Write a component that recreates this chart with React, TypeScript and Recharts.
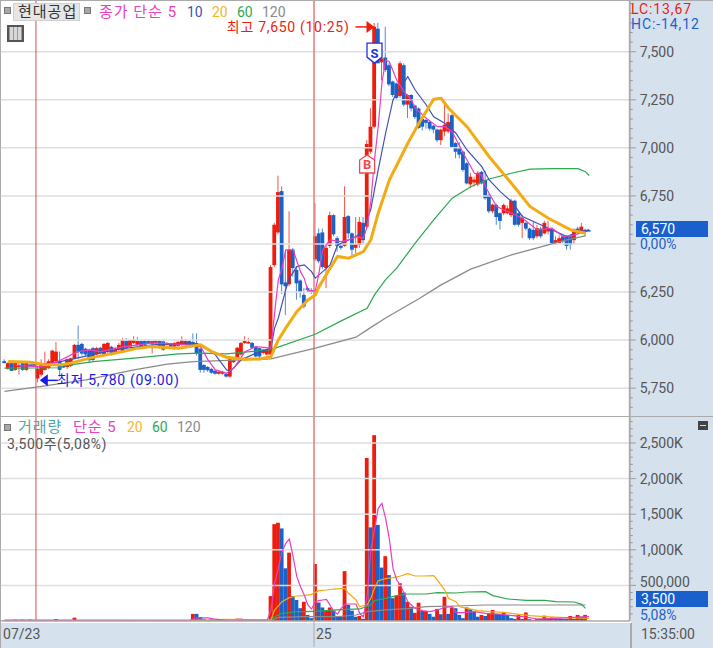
// App.tsx
import React from 'react';
import { ComposedChart, Bar, Line, XAxis, YAxis, ReferenceLine, ReferenceDot } from 'recharts';

// [open, high, low, close] for every minute bar
const ohlcFlat = [
  [5890, 5900, 5880, 5880], [5850, 5885, 5845, 5880], [5880, 5885, 5840, 5840], [5845, 5890, 5840, 5885],
  [5860, 5890, 5820, 5870], [5880, 5890, 5840, 5845], [5845, 5890, 5840, 5890], [5870, 5875, 5865, 5868],
  [5868, 5872, 5860, 5864], [5800, 5860, 5780, 5850], [5820, 5900, 5810, 5870], [5845, 5940, 5840, 5875],
  [5855, 5900, 5850, 5890], [5870, 5950, 5865, 5945], [5890, 5990, 5885, 5940], [5890, 5940, 5810, 5845],
  [5865, 5870, 5855, 5860], [5860, 5905, 5850, 5900], [5865, 5910, 5860, 5905], [5905, 5980, 5900, 5975],
  [5975, 6075, 5900, 5940], [5980, 5985, 5920, 5930], [5955, 5960, 5915, 5925], [5950, 5955, 5885, 5895],
  [5958, 5965, 5890, 5897], [5925, 5965, 5920, 5958], [5960, 5965, 5925, 5932], [5925, 5985, 5920, 5980],
  [5940, 5990, 5930, 5985], [5965, 5970, 5920, 5925], [5933, 5965, 5925, 5950], [5950, 5985, 5945, 5975],
  [5940, 6010, 5935, 6000], [5995, 6010, 5950, 5960], [5966, 6005, 5960, 6000], [5985, 6020, 5980, 6000],
  [5975, 6015, 5965, 5995], [5995, 6000, 5960, 5966], [5995, 6000, 5970, 5975], [5995, 6000, 5980, 5985],
  [5980, 5995, 5930, 5995], [5985, 6000, 5975, 5995], [5995, 6000, 5955, 5960], [5993, 6000, 5945, 5950],
  [5975, 5990, 5970, 5985], [5980, 5985, 5960, 5965], [5966, 5990, 5950, 5985], [5970, 5995, 5965, 5990],
  [5975, 6020, 5970, 6000], [5975, 6005, 5970, 5995], [5995, 6000, 5970, 5975], [5990, 6035, 5970, 5975],
  [5985, 6035, 5920, 5930], [5955, 5960, 5830, 5845], [5870, 5875, 5830, 5845], [5860, 5865, 5835, 5843],
  [5850, 5855, 5825, 5830], [5840, 5845, 5820, 5825], [5825, 5840, 5820, 5835], [5825, 5840, 5820, 5835],
  [5825, 5830, 5805, 5810], [5810, 5905, 5805, 5900], [5885, 5900, 5880, 5895], [5905, 5965, 5900, 5960],
  [5925, 5990, 5920, 5985], [5985, 6020, 5980, 5995], [5985, 6010, 5980, 5990], [5985, 5990, 5955, 5960],
  [5966, 5970, 5910, 5915], [5958, 5960, 5895, 5915], [5933, 5955, 5925, 5950], [5925, 5955, 5920, 5950],
];

const ohlcSpike = [
  [5925, 6390, 5920, 6380], [6390, 6610, 6380, 6600], [6560, 6855, 6550, 6770], [6775, 6800, 6240, 6290],
  [6300, 6460, 6130, 6280], [6290, 6670, 6280, 6470], [6470, 6480, 6330, 6375], [6365, 6380, 6210, 6295],
  [6310, 6315, 6220, 6250], [6235, 6270, 6165, 6175], [6270, 6280, 6250, 6260], [6260, 6270, 6240, 6250],
  [6420, 6712, 6410, 6540], [6555, 6580, 6400, 6410], [6560, 6580, 6370, 6380], [6375, 6490, 6270, 6480],
  [6490, 6668, 6480, 6650], [6650, 6655, 6540, 6550], [6530, 6540, 6460, 6490], [6490, 6500, 6470, 6480],
  [6490, 6800, 6485, 6640], [6645, 6650, 6530, 6555], [6555, 6560, 6440, 6470], [6480, 6640, 6450, 6500],
  [6495, 6640, 6480, 6615], [6610, 6640, 6500, 6520], [6590, 7040, 6580, 7020], [6980, 7206, 6970, 7110],
  [7110, 7650, 7100, 7630],
];

const ohlcFall = [
  [7620, 7650, 7440, 7440], [7445, 7480, 7350, 7465], [7470, 7630, 7395, 7405], [7430, 7440, 7320, 7330],
  [7345, 7350, 7265, 7275], [7335, 7340, 7250, 7260], [7270, 7450, 7260, 7440], [7430, 7440, 7215, 7225],
  [7225, 7280, 7155, 7275], [7275, 7280, 7190, 7205], [7220, 7225, 7150, 7160], [7205, 7210, 7100, 7103],
  [7150, 7155, 7090, 7110], [7145, 7150, 7100, 7130], [7135, 7145, 7090, 7100], [7115, 7120, 7075, 7095],
  [7095, 7100, 7030, 7040], [7040, 7100, 7015, 7095], [7085, 7230, 7060, 7120], [7085, 7180, 7075, 7135],
  [7170, 7175, 7000, 7005], [7025, 7030, 6946, 6980], [6998, 7030, 6945, 6965], [6980, 6985, 6875, 6885],
  [6920, 6925, 6810, 6815], [6810, 6870, 6790, 6850], [6820, 6850, 6800, 6835], [6810, 6880, 6800, 6870],
  [6875, 6880, 6810, 6815], [6833, 6880, 6730, 6738], [6755, 6760, 6660, 6670], [6670, 6710, 6660, 6705],
  [6703, 6710, 6600, 6640], [6660, 6665, 6575, 6620], [6660, 6710, 6650, 6703], [6660, 6700, 6655, 6685],
  [6650, 6735, 6640, 6725], [6725, 6730, 6595, 6600], [6660, 6665, 6590, 6600], [6610, 6650, 6530, 6635],
  [6610, 6615, 6570, 6580], [6580, 6585, 6520, 6530], [6573, 6620, 6520, 6530], [6540, 6600, 6530, 6582],
  [6580, 6590, 6530, 6540], [6555, 6620, 6550, 6610], [6565, 6620, 6550, 6580], [6575, 6580, 6500, 6505],
  [6505, 6540, 6495, 6520], [6505, 6545, 6500, 6530], [6540, 6545, 6505, 6515], [6540, 6545, 6470, 6490],
  [6540, 6545, 6470, 6495], [6520, 6580, 6500, 6575], [6580, 6590, 6550, 6560], [6565, 6610, 6555, 6590],
  [6570, 6580, 6540, 6565], [6572, 6576, 6566, 6570],
];

// moving averages: [bar index, price] at the places where the line could be read
const ma5Knots = [
  [3, 5868], [10, 5862], [14, 5885], [18, 5923], [20, 5940], [23, 5949], [26, 5940], [32, 5965], [40, 5985], [48, 5978],
  [53, 5966], [55, 5897], [57, 5845], [60, 5828], [62, 5854], [65, 5940], [68, 5966], [72, 5958], [73, 6140], [74, 6313],
  [75, 6374], [76, 6469], [78, 6469], [80, 6356], [81, 6322], [82, 6256], [84, 6256], [85, 6350], [86, 6470], [88, 6521],
  [91, 6512], [93, 6521], [95, 6538], [97, 6530], [98, 6590], [99, 6720], [100, 6937], [101, 7110], [102, 7336], [103, 7457],
  [104, 7448], [106, 7353], [108, 7293], [110, 7249], [111, 7206], [114, 7154], [117, 7110], [119, 7110], [121, 7084], [124, 6972],
  [127, 6868], [129, 6859], [130, 6798], [133, 6695], [135, 6677], [139, 6643], [140, 6634], [144, 6573], [148, 6582], [151, 6538],
  [154, 6547], [157, 6565],
];

const ma10Knots = [
  [6, 5868], [13, 5880], [18, 5900], [30, 5950], [40, 5975], [50, 5985], [54, 5965], [57, 5923], [60, 5845], [61, 5836],
  [64, 5897], [68, 5932], [72, 5958], [73, 6062], [74, 6114], [76, 6261], [77, 6322], [79, 6382], [81, 6391], [83, 6356],
  [84, 6322], [86, 6356], [88, 6391], [90, 6495], [93, 6521], [95, 6538], [97, 6573], [99, 6680], [101, 6885], [103, 7076],
  [105, 7249], [106, 7284], [109, 7370], [111, 7301], [114, 7223], [116, 7162], [119, 7128], [122, 7076], [125, 6989], [129, 6902],
  [131, 6833], [134, 6772], [137, 6721], [140, 6643], [144, 6608], [147, 6582], [152, 6539], [155, 6565], [158, 6573],
];

const ma20Knots = [
  [1, 5888], [7, 5885], [11, 5872], [15, 5871], [18, 5880], [23, 5906], [32, 5940], [36, 5958], [38, 5961], [39, 5966],
  [47, 5958], [53, 5975], [56, 5940], [60, 5911], [65, 5900], [69, 5902], [72, 5914], [74, 6001], [76, 6062], [79, 6148],
  [82, 6209], [84, 6235], [85, 6278], [88, 6374], [90, 6435], [93, 6426], [97, 6460], [99, 6521], [101, 6660], [104, 6833],
  [109, 7024], [112, 7128], [116, 7253], [118, 7258], [120, 7206], [125, 7110], [131, 6954], [137, 6816], [142, 6695], [147, 6634],
  [153, 6573], [157, 6556],
];

const ma60Knots = [
  [0, 5854], [15, 5856], [16, 5866], [24, 5888], [35, 5906], [47, 5928], [53, 5932], [60, 5928], [72, 5950], [84, 6030],
  [91, 6100], [98, 6165], [100, 6235], [103, 6315], [106, 6374], [111, 6504], [116, 6625], [121, 6738], [126, 6798], [131, 6838],
  [137, 6868], [142, 6889], [148, 6892], [155, 6892], [157, 6876], [158, 6856],
];

const ma120Knots = [
  [0, 5733], [10, 5759], [22, 5793], [35, 5845], [44, 5875], [51, 5888], [72, 5902], [84, 5958], [95, 6015], [98, 6053],
  [103, 6115], [112, 6215], [118, 6287], [126, 6369], [137, 6443], [146, 6490], [152, 6521], [157, 6542],
];

// volume in thousands, a negative number is a blue (falling) bar
const volumeFlat = [
  5, 8, -5, 19, 6, -19, 8, 19, 6, 12, 10, 8, 10, 9, 28, -8, -5, 7, 8, 47, -9, -7, -5, -6,
  -6, 6, -5, 7, 6, -6, 5, 6, 7, -5, 5, -5, 6, -5, -4, -5, 5, 4, -5, -5, 4, -4, 5, 6,
  5, 5, -5, 100, -100, -55, -30, -15, 30, -10, 8, 9, -12, 14, 10, 33, 33, 12, 9, -7, -9, -8, 6, 7,
];

const volumeSpike = [
  350, 1360, 1380, -1300, -740, 960, -350, -295, -180, 270, -85, -40, 800, -260, -190, 145, 190, -145,
  -70, -60, 700, -225, -145, -60, 70, -30, 2290, -1315, 2610,
];

const volumeFall = [
  -1350, -750, 910, -645, -320, 355, 530, -400, 270, -200, 115, 257, -140, 140, -100, -60,
  170, -95, 340, -100, 190, -180, -85, -40, 190, -165, -130, -60, 85, -70, 100, 155, -100, -100,
  -120, -85, -40, -30, 85, -30, 120, -25, 15, 30, -30, 75, -30, 50, -30, -30, -30, -30, 70, -30,
  85, -60, 85, -4,
];

const volMa5Knots = [
  [0, 8], [50, 10], [52, 45], [55, 45], [57, 25], [60, 10], [71, 12], [72, 150], [73, 529], [74, 739], [75, 973], [76, 1090],
  [77, 1151], [78, 903], [79, 622], [80, 482], [81, 365], [82, 225], [83, 168], [84, 271], [85, 285], [86, 295], [87, 304], [89, 140],
  [90, 98], [91, 178], [92, 234], [93, 239], [95, 239], [96, 108], [97, 60], [98, 342], [99, 997], [100, 1278], [101, 1582], [102, 1652],
  [103, 1441], [104, 1161], [105, 739], [106, 576], [107, 505], [108, 388], [109, 271], [110, 225], [111, 178], [112, 154], [113, 145],
  [115, 131], [117, 154], [119, 192], [121, 201], [122, 117], [124, 117], [127, 131], [130, 108], [133, 98], [136, 84], [140, 61],
  [144, 28], [149, 37], [154, 51], [158, 61],
];

const volMa20Knots = [
  [0, 10], [50, 10], [60, 22], [71, 15], [72, 14], [73, 154], [75, 271], [77, 328], [79, 351], [81, 356], [83, 374], [85, 426], [87, 435],
  [89, 449], [92, 459], [93, 389], [95, 295], [96, 201], [98, 225], [99, 318], [100, 459], [101, 566], [103, 594], [105, 608], [107, 632],
  [109, 665], [111, 632], [113, 632], [116, 636], [117, 575], [119, 435], [120, 318], [122, 271], [123, 201], [125, 178], [128, 145],
  [131, 131], [135, 122], [139, 94], [142, 75], [146, 61], [150, 51], [154, 42], [158, 37],
];

const volMa60Knots = [
  [0, 8], [71, 6], [72, 5], [73, 61], [75, 108], [77, 117], [79, 131], [81, 131], [85, 140], [90, 155], [93, 164], [96, 169], [99, 225],
  [100, 286], [103, 318], [106, 356], [109, 379], [114, 379], [117, 398], [122, 393], [125, 407], [130, 412], [132, 356], [136, 309],
  [141, 290], [146, 290], [149, 271], [154, 267], [156, 234], [157, 178],
];

const volMa120Knots = [
  [0, 5], [72, 4], [74, 51], [81, 61], [90, 61], [95, 84], [98, 131], [103, 155], [109, 173], [114, 201], [122, 211], [130, 225], [157, 225],
];

const priceTicks = [
  5650, 5700, 5750, 5800, 5850, 5900, 5950, 6000, 6050, 6100, 6150, 6200, 6250, 6300, 6350, 6400, 6450, 6500, 6550, 6600, 6650, 6700,
  6750, 6800, 6850, 6900, 6950, 7000, 7050, 7100, 7150, 7200, 7250, 7300, 7350, 7400, 7450, 7500, 7550, 7600, 7650, 7700, 7750,
];
const priceMajor = [5750, 6000, 6250, 6500, 6750, 7000, 7250, 7500];
const priceLabels = { 5750: '5,750', 6000: '6,000', 6250: '6,250', 6750: '6,750', 7000: '7,000', 7250: '7,250', 7500: '7,500' };

const volumeTicks = [
  100, 200, 300, 400, 500, 600, 700, 800, 900, 1000, 1100, 1200, 1300, 1400, 1500, 1600, 1700, 1800, 1900, 2000, 2100, 2200, 2300, 2400,
  2500, 2600, 2700, 2800,
];
const volumeMajor = [500, 1000, 1500, 2000, 2500];
const volumeLabels = { 500: '500,000', 1000: '1,000K', 1500: '1,500K', 2000: '2,000K', 2500: '2,500K' };

// positions of the session markers on the bar scale
const sessionMarks = [8.5, 83.65];
const timeTicks = [-0.4, 83.65];
const timeLabels = ['07/23', '25'];

const candles = [...ohlcFlat, ...ohlcSpike, ...ohlcFall];
const volumes = [...volumeFlat, ...volumeSpike, ...volumeFall];

const knotAt = (knots: number[][], i: number) => {
  const hit = knots.find((k) => k[0] === i);
  return hit ? hit[1] : null;
};

const priceData = candles.map(([open, high, low, close], i) => ({
  i, open, high, low, close,
  range: [low, high],
  ma5: knotAt(ma5Knots, i),
  ma10: knotAt(ma10Knots, i),
  ma20: knotAt(ma20Knots, i),
  ma60: knotAt(ma60Knots, i),
  ma120: knotAt(ma120Knots, i),
}));

const volumeData = volumes.map((v, i) => ({
  i,
  volume: Math.abs(v),
  up: v > 0,
  ma5: knotAt(volMa5Knots, i),
  ma20: knotAt(volMa20Knots, i),
  ma60: knotAt(volMa60Knots, i),
  ma120: knotAt(volMa120Knots, i),
}));

const RED = '#ee1c0c';
const BLUE = '#1b62c8';
const PINK = '#e83fc0';
const NAVY = '#3f51b5';
const ORANGE = '#f2ab12';
const GREEN = '#2ea84f';
const GRAY = '#8a8a8a';
const PANEL = '#d6e1ee';
const FONT = 'Roboto, "Noto Sans CJK KR", sans-serif';

const Candle = (props: any) => {
  const { x, y, width, height, payload } = props;
  const { open, high, low, close } = payload;
  const perUnit = height / (high - low);
  const top = y + (high - Math.max(open, close)) * perUnit;
  const bodyHeight = Math.max(Math.abs(open - close) * perUnit, 1.5);
  const color = close >= open ? RED : BLUE;
  return (
    <g>
      <line x1={x + width / 2} x2={x + width / 2} y1={y} y2={y + height} stroke={color} strokeWidth={1} opacity={0.75} />
      <rect x={x - 0.4} y={top} width={width + 0.8} height={bodyHeight} fill={color} />
    </g>
  );
};

const VolumeBar = (props: any) => {
  const { x, y, width, height, payload } = props;
  return <rect x={x - 0.4} y={y} width={width + 0.8} height={height} fill={payload.up ? RED : BLUE} />;
};

const axisTick = (labels: any, majors: number[]) => (props: any) => {
  const { x, y, payload } = props;
  const major = majors.includes(payload.value);
  // the lowest volume label sits a little above its tick, clear of the price tag
  const lift = payload.value === 500 ? 3 : 0;
  return (
    <g>
      <line x1={x} x2={x + (major ? 6 : 3)} y1={y} y2={y} stroke="#999" strokeWidth={1} />
      {labels[payload.value] && (
        <text x={x + 10} y={y + 5 - lift} fontSize={14} fontFamily={FONT} fill="#555">{labels[payload.value]}</text>
      )}
    </g>
  );
};

const timeTick = (props: any) => {
  const { x, y, index } = props;
  return (
    <g>
      {index > 0 && <line x1={x} x2={x} y1={y - 2} y2={y + 26} stroke="#aaa" strokeWidth={1} />}
      <text x={x + (index > 0 ? 2 : 0)} y={y + 18} fontSize={14} fontFamily={FONT} fill="#555">{timeLabels[index]}</text>
    </g>
  );
};

const Flag = ({ cx, cy, letter, color, up }: any) => {
  const points = up
    ? `${cx},${cy - 9} ${cx + 7.5},${cy - 4} ${cx + 7.5},${cy + 9} ${cx - 7.5},${cy + 9} ${cx - 7.5},${cy - 4}`
    : `${cx - 7.5},${cy - 10} ${cx + 7.5},${cy - 10} ${cx + 7.5},${cy + 4} ${cx},${cy + 10} ${cx - 7.5},${cy + 4}`;
  return (
    <g>
      <polygon points={points} fill="#fff" stroke={color} strokeWidth={1.3} />
      <text x={cx} y={cy + 5} textAnchor="middle" fontSize={13} fontWeight={700} fontFamily={FONT} fill={color}>{letter}</text>
    </g>
  );
};

const HighMark = ({ cx, cy }: any) => (
  <g>
    <text x={cx - 25} y={cy + 9} textAnchor="end" fontSize={14} letterSpacing={0.7} fontFamily={FONT} fill={RED}>최고 7,650 (10:25)</text>
    <line x1={cx - 19} x2={cx - 6} y1={cy + 4} y2={cy + 4} stroke={RED} strokeWidth={1.5} />
    <polygon points={`${cx},${cy + 4} ${cx - 8},${cy - 2} ${cx - 8},${cy + 10}`} fill={RED} />
  </g>
);

const LowMark = ({ cx, cy }: any) => (
  <g>
    <polygon points={`${cx + 2},${cy - 2} ${cx + 10},${cy - 8} ${cx + 10},${cy + 4}`} fill="#1a1ae6" />
    <line x1={cx + 8} x2={cx + 20} y1={cy - 2} y2={cy - 2} stroke="#1a1ae6" strokeWidth={1.5} />
    <text x={cx + 19} y={cy + 3} fontSize={14} letterSpacing={0.7} fontFamily={FONT} fill="#1a1ae6">최저 5,780 (09:00)</text>
  </g>
);

const Label = ({ x, y, color, size = 14, spacing = 0, lineHeight = 18, family = FONT, children }: any) => (
  <div style={{ position: 'absolute', left: x, top: y, color, fontSize: size, letterSpacing: spacing, lineHeight: `${lineHeight}px`, fontFamily: family, whiteSpace: 'nowrap' }}>
    {children}
  </div>
);

const Knob = ({ x, y }: any) => (
  <div style={{ position: 'absolute', left: x, top: y, width: 5, height: 5, background: '#a8a8a8', border: '1px solid #777' }} />
);

const Tag = ({ y, text }: any) => (
  <div style={{ position: 'absolute', left: 636, top: y, width: 72, height: 16, background: '#1a60cc', color: '#fff', fontSize: 14, lineHeight: '16px', fontFamily: FONT, paddingLeft: 5, boxSizing: 'border-box' }}>
    {text}
  </div>
);

const App = () => {
  return (
    <div style={{ position: 'absolute', left: 0, top: 0, width: 713, height: 648, background: '#fff', overflow: 'hidden' }}>
      <div style={{ position: 'absolute', left: 631, top: 0, width: 82, height: 648, background: PANEL }} />
      <div style={{ position: 'absolute', left: 0, top: 623, width: 713, height: 25, background: PANEL }} />
      <div style={{ position: 'absolute', left: 0, top: 0, width: 1, height: 648, background: '#aaa' }} />
      <div style={{ position: 'absolute', left: 0, top: 0, width: 713, height: 1, background: '#aaa' }} />
      <div style={{ position: 'absolute', left: 0, top: 416, width: 713, height: 1, background: '#aaa' }} />

      <div style={{ position: 'absolute', left: 0, top: 0 }}>
        <ComposedChart width={713} height={416} data={priceData} margin={{ top: 1, right: 0.2, bottom: 0, left: 0.8 }}>
          <XAxis dataKey="i" type="number" domain={[-1, 169]} hide />
          <YAxis
            orientation="right" width={83} domain={[5605, 7764]} ticks={priceTicks} interval={0} allowDataOverflow
            tickSize={0} tickMargin={0} tick={axisTick(priceLabels, priceMajor)} axisLine={{ stroke: '#aaa', strokeWidth: 2 }}
          />
          {priceMajor.map((p) => (
            <ReferenceLine key={p} y={p} stroke="#dedede" strokeWidth={1.5} />
          ))}
          <ReferenceLine x={sessionMarks[0]} stroke="#e2474c" strokeWidth={1} />
          <ReferenceLine x={sessionMarks[1]} stroke="#ea8285" strokeWidth={1.6} />
          <Bar dataKey="range" barSize={3} shape={Candle} isAnimationActive={false} />
          <Line dataKey="ma120" stroke={GRAY} strokeWidth={1.3} dot={false} connectNulls isAnimationActive={false} />
          <Line dataKey="ma60" stroke={GREEN} strokeWidth={1.2} dot={false} connectNulls isAnimationActive={false} />
          <Line dataKey="ma10" stroke={NAVY} strokeWidth={1.2} dot={false} connectNulls isAnimationActive={false} />
          <Line dataKey="ma5" stroke={PINK} strokeWidth={1.2} dot={false} connectNulls isAnimationActive={false} />
          <Line dataKey="ma20" stroke={ORANGE} strokeWidth={3} dot={false} connectNulls isAnimationActive={false} />
          <ReferenceDot x={98} y={6916} shape={(p: any) => <Flag {...p} letter="B" color="#f4474c" up />} />
          <ReferenceDot x={100} y={7493} shape={(p: any) => <Flag {...p} letter="S" color="#2233dd" />} />
          <ReferenceDot x={100} y={7650} shape={HighMark} />
          <ReferenceDot x={9} y={5780} shape={LowMark} />
        </ComposedChart>
      </div>

      <div style={{ position: 'absolute', left: 0, top: 417 }}>
        <ComposedChart width={713} height={231} data={volumeData} margin={{ top: 0, right: 0.2, bottom: 0, left: 0.8 }}>
          <XAxis
            dataKey="i" type="number" domain={[-1, 169]} height={27} ticks={timeTicks} interval={0} allowDecimals
            tickSize={0} tickMargin={0} tick={timeTick} axisLine={{ stroke: '#aaa', strokeWidth: 1.5 }}
          />
          <YAxis
            orientation="right" width={83} domain={[0, 2865]} ticks={volumeTicks} interval={0} allowDataOverflow
            tickSize={0} tickMargin={0} tick={axisTick(volumeLabels, volumeMajor)} axisLine={{ stroke: '#aaa', strokeWidth: 2 }}
          />
          {volumeMajor.map((v) => (
            <ReferenceLine key={v} y={v} stroke="#dedede" strokeWidth={1.5} />
          ))}
          <ReferenceLine x={sessionMarks[0]} stroke="#e2474c" strokeWidth={1} />
          <ReferenceLine x={sessionMarks[1]} stroke="#ea8285" strokeWidth={1.6} />
          <Bar dataKey="volume" barSize={3} shape={VolumeBar} isAnimationActive={false} />
          <Line dataKey="ma120" stroke={GRAY} strokeWidth={1.2} dot={false} connectNulls isAnimationActive={false} />
          <Line dataKey="ma60" stroke={GREEN} strokeWidth={1.2} dot={false} connectNulls isAnimationActive={false} />
          <Line dataKey="ma20" stroke={ORANGE} strokeWidth={1.2} dot={false} connectNulls isAnimationActive={false} />
          <Line dataKey="ma5" stroke={PINK} strokeWidth={1.2} dot={false} connectNulls isAnimationActive={false} />
        </ComposedChart>
      </div>

      <Knob x={4} y={7} />
      <div style={{ position: 'absolute', left: 13, top: 3, width: 67, height: 18, background: '#e6e6e6', border: '1px solid #d0d0d0', boxSizing: 'border-box' }} />
      <Label x={18} y={3} color="#333" size={15} spacing={1}>현대공업</Label>
      <Knob x={84} y={7} />
      <Label x={99} y={3} color={PINK} size={15} spacing={1}>종가 단순 5</Label>
      <Label x={187} y={3} color={NAVY}>10</Label>
      <Label x={212} y={3} color="#f5b52e">20</Label>
      <Label x={237} y={3} color={GREEN}>60</Label>
      <Label x={262} y={3} color={GRAY}>120</Label>
      <div style={{ position: 'absolute', left: 7, top: 25, width: 17, height: 17, border: '2px solid #555', background: '#d8d8d8', boxSizing: 'border-box', backgroundImage: 'repeating-linear-gradient(90deg, #999 0 1px, transparent 1px 4px)' }} />

      <Label x={631} y={2} color={RED} size={14} spacing={0.9} lineHeight={15} family="Roboto">LC:13,67</Label>
      <Label x={631} y={17} color={BLUE} size={14} spacing={0.9} lineHeight={15} family="Roboto">HC:-14,12</Label>
      <Tag y={221} text="6,570" />
      <Label x={640} y={235} color={BLUE}>0,00%</Label>

      <Knob x={4} y={424} />
      <Label x={18} y={418} color="#4aa8a8" size={15} spacing={1}>거래량</Label>
      <Label x={73} y={418} color={PINK} size={15} spacing={1}>단순 5</Label>
      <Label x={127} y={418} color="#f5b52e">20</Label>
      <Label x={152} y={418} color={GREEN}>60</Label>
      <Label x={177} y={418} color={GRAY}>120</Label>
      <Label x={7} y={435} color="#555" spacing={0.5}>3,500주(5,08%)</Label>

      <div style={{ position: 'absolute', left: 698, top: 421, width: 10, height: 9, background: '#444' }}>
        <div style={{ position: 'absolute', left: 2, top: 4, width: 6, height: 1, background: '#ddd' }} />
      </div>
      <Tag y={591} text="3,500" />
      <Label x={640} y={606} color={BLUE}>5,08%</Label>
      <Label x={641} y={625} color="#555">15:35:00</Label>
      <div style={{ position: 'absolute', left: 630, top: 623, width: 1.5, height: 25, background: '#aaa' }} />
    </div>
  );
};

export default App;
